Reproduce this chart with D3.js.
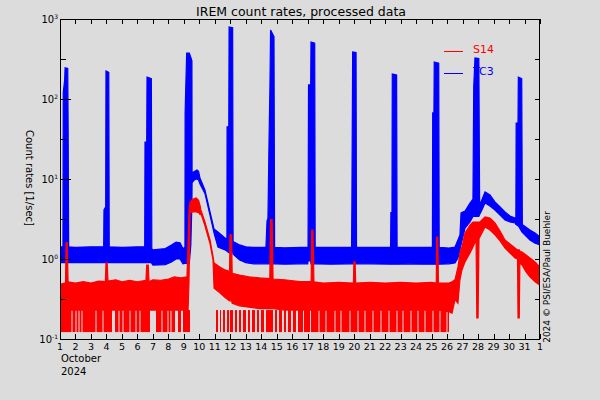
<!DOCTYPE html>
<html><head><meta charset="utf-8">
<script src="https://cdn.jsdelivr.net/npm/d3@7"></script>
<style>html,body{margin:0;padding:0;background:#dcdcdc;} svg{display:block;}</style>
</head><body><svg id="c" width="600" height="400"></svg>
<script>
// ---------- data ----------
const xTickLabels = ["1","2","3","4","5","6","7","8","9","10","11","12","13","14","15","16","17","18","19","20","21","22","23","24","25","26","27","28","29","30","31","1"];
const yDecades = [0.1, 1, 10, 100, 1000];
const yExponents = ["-1", "0", "1", "2", "3"];
const yHalfDecades = [0.316, 3.16, 31.6, 316];
const seriesNames = ["S14", "TC3"];

// TC3: [day, low, high] envelope of the count rate (1/sec)
const tc3 = [
 [1.0,0.9,1.42],[1.19,0.9,1.42],[1.21,0.9,120],[1.3,0.9,173],[1.33,0.9,245],[1.5,0.9,240],[1.53,0.9,30],[1.56,0.9,1.42],
 [2.0,0.9,1.4],[3.0,0.91,1.42],[3.82,0.9,1.42],[3.84,0.9,4.1],[3.95,0.9,4.5],[3.97,0.9,224],[4.15,0.9,215],[4.18,0.9,1.42],
 [5.0,0.9,1.4],[6.0,0.9,1.42],[6.47,0.9,1.42],[6.49,0.9,29],[6.6,0.9,29],[6.62,0.9,188],[6.9,0.9,180],[6.93,0.88,1.35],
 [7.0,0.84,1.3],[7.8,0.85,1.35],[8.2,0.92,1.5],[8.5,1.0,1.63],[8.75,1.0,1.6],[8.94,0.87,1.35],[9.07,0.88,1.4],
 [9.08,0.88,67],[9.18,0.88,376],[9.35,0.88,376],[9.45,1.5,330],[9.52,5,300],[9.53,9.0,12],[9.7,9.8,12.5],[9.85,10,13],
 [9.95,9.7,12.5],[10.04,8.66,10.3],[10.36,6.6,7.3],[10.69,3.5,3.87],[10.95,2.1,2.37],[11.2,1.41,2.17],[11.66,1.3,1.83],
 [11.78,1.25,1.75],[11.79,1.25,45],[11.9,1.2,45],[11.92,1.2,794],[12.15,1.2,780],[12.18,1.15,1.65],[12.6,0.97,1.5],
 [13.0,0.9,1.42],[13.5,0.87,1.4],[14.3,0.87,1.4],[14.37,0.87,3.0],[14.43,0.87,3.2],[14.5,0.87,30],[14.56,0.87,150],
 [14.6,0.87,729],[14.82,0.87,600],[14.86,0.87,1.4],[15.5,0.86,1.38],[16.5,0.87,1.4],[17.0,0.87,1.4],[17.02,0.95,1.4],
 [17.05,0.95,150],[17.19,0.95,150],[17.21,0.87,516],[17.45,0.87,500],[17.48,0.87,1.4],[18.5,0.86,1.4],[19.83,0.87,1.4],
 [19.85,0.87,4.5],[19.9,0.87,387],[20.12,0.87,380],[20.15,0.87,1.4],[21.0,0.87,1.4],[22.35,0.86,1.4],[22.37,0.86,3.8],
 [22.44,0.86,3.8],[22.46,0.86,205],[22.74,0.86,200],[22.77,0.86,1.4],[23.5,0.87,1.4],[24.5,0.86,1.4],[25.05,0.86,1.4],
 [25.07,0.86,67],[25.15,0.86,67],[25.17,0.86,290],[25.46,0.86,280],[25.49,0.86,1.4],[26.12,0.87,1.37],[26.51,0.89,1.41],
 [26.7,1.03,1.73],[26.83,1.3,1.99],[26.9,1.5,3.76],[27.16,2.44,3.98],[27.48,2.9,5.0],[27.67,3.4,5.6],[27.72,3.4,141],
 [27.8,3.4,325],[28.05,3.4,320],[28.1,3.6,5.1],[28.19,3.87,5.17],[28.45,5.0,6.88],[28.77,4.6,6.3],[29.09,4.1,5.17],
 [29.42,3.55,4.47],[29.74,3.07,3.87],[30.06,2.9,3.45],[30.39,2.82,3.25],[30.44,2.7,3.2],[30.46,2.7,50],[30.58,2.6,50],
 [30.6,2.6,188],[30.82,2.2,180],[30.86,2.15,2.7],[30.9,2.11,2.66],[31.35,1.73,2.3],[31.68,1.58,2.11],[32.0,1.5,1.88]
];

// S14: [day, low, high] envelope of the count rate (1/sec)
const s14 = [
 [1.0,0.23,0.48],[1.3,0.23,0.5],[1.36,0.23,0.5],[1.39,0.23,1.6],[1.47,0.23,1.6],[1.52,0.23,0.52],[2.0,0.23,0.5],
 [2.5,0.23,0.52],[3.0,0.23,0.5],[3.5,0.23,0.53],[3.93,0.23,0.52],[3.97,0.23,0.89],[4.05,0.23,0.89],[4.1,0.23,0.53],
 [4.6,0.23,0.55],[5.0,0.23,0.52],[5.5,0.23,0.54],[6.0,0.23,0.52],[6.55,0.23,0.54],[6.6,0.23,0.84],[6.7,0.23,0.84],
 [6.75,0.23,0.52],[7.0,0.23,0.55],[7.5,0.23,0.54],[8.0,0.23,0.56],[8.4,0.23,0.6],[8.8,0.23,0.58],[9.2,0.23,0.6],
 [9.27,0.23,1.6],[9.33,0.5,4.1],[9.4,3.76,5.2],[9.6,3.9,5.6],[9.8,3.87,5.8],[9.95,3.8,5.4],[10.05,3.6,4.6],[10.1,3.7,4.1],
 [10.36,2.6,2.9],[10.69,1.55,1.73],[10.88,0.98,1.09],[10.95,0.43,0.89],[11.3,0.38,0.8],[11.66,0.33,0.73],[11.95,0.3,0.7],
 [11.98,0.3,2.0],[12.08,0.3,2.0],[12.12,0.28,0.66],[12.6,0.26,0.63],[13.2,0.25,0.6],[13.9,0.24,0.58],[14.55,0.24,0.57],
 [14.6,0.24,3.1],[14.7,0.24,3.1],[14.76,0.24,0.56],[15.5,0.23,0.55],[16.5,0.23,0.52],[17.22,0.23,0.52],[17.26,0.23,2.3],
 [17.34,0.23,2.3],[17.4,0.23,0.52],[18.0,0.23,0.5],[19.0,0.23,0.51],[19.95,0.23,0.5],[19.98,0.23,0.92],[20.06,0.23,0.92],
 [20.1,0.23,0.5],[21.0,0.23,0.51],[22.0,0.23,0.5],[23.0,0.23,0.51],[24.0,0.23,0.5],[25.0,0.23,0.51],[25.3,0.23,0.5],
 [25.33,0.23,1.88],[25.4,0.23,1.88],[25.44,0.23,0.5],[26.12,0.22,0.5],[26.32,0.21,0.52],[26.51,0.31,0.55],[26.7,0.28,0.79],
 [26.83,0.55,1.19],[26.96,0.73,1.41],[27.16,0.92,2.11],[27.48,1.19,2.66],[27.67,1.41,2.9],[27.87,1.73,2.9],[27.92,0.183,2.9],
 [28.0,0.183,2.9],[28.06,1.8,2.9],[28.12,1.88,2.9],[28.45,2.51,3.35],[28.77,2.3,3.25],[29.09,2.0,2.82],[29.42,1.68,2.24],
 [29.74,1.37,1.73],[30.06,1.19,1.54],[30.39,1.03,1.37],[30.55,1.0,1.3],[30.58,0.183,1.3],[30.66,0.183,1.3],[30.7,0.9,1.25],
 [30.84,0.84,1.22],[31.1,0.69,1.12],[31.35,0.6,1.03],[31.68,0.52,0.92],[32.0,0.47,0.79]
];

// S14 time spans (days) in which the rate drops to the lowest level
const s14Floor = 0.122;
const s14FloorTop = 0.23;
const s14FloorSpans = [
 [1.0,1.743],[1.807,2.001],[2.066,2.195],[2.259,2.389],[2.453,3.293],[3.357,3.745],[3.809,4.358],[4.552,4.778],
 [4.843,5.036],[5.101,5.489],[5.553,5.876],[5.941,6.134],[6.199,6.812],[7.2,7.555],[7.62,7.943],[8.007,8.136],
 [8.201,8.427],[8.621,8.815],[8.944,9.396],
 [11.075,11.204],[11.333,11.398],[11.527,11.656],[11.785,11.915],[11.979,12.173],[12.302,12.431],[12.56,12.689],
 [12.818,13.012],[13.141,13.271],[13.4,13.594],[13.723,13.852],[13.981,14.175],[14.304,14.756],[14.885,15.014],
 [15.143,15.337],[15.466,15.595],[15.724,15.918],[16.047,16.241],[16.371,16.694],[16.758,17.146],[17.211,17.695],
 [17.759,18.147],[18.211,18.728],[18.792,19.115],[19.18,19.697],[19.761,20.213],[20.278,20.665],[20.73,21.182],
 [21.246,21.699],[21.763,22.215],[22.28,22.732],[22.796,23.12],[23.184,23.636],[23.701,24.088],[24.153,24.54],
 [24.605,25.057],[25.121,25.509],[25.573,25.961],[26.025,26.123]
];

// ---------- chart ----------
const W = 600, H = 400;
const L = 60, R = 540, T = 19, B = 339;
const FONT = "DejaVu Sans, Liberation Sans, sans-serif";
const RED = "#ff0000", BLUE = "#0000ff";

const svg = d3.select("#c");
svg.append("rect").attr("width", W).attr("height", H).attr("fill", "#dcdcdc");

const x = d3.scaleLinear().domain([1, 32]).range([L, R]);
const y = d3.scaleLog().domain([0.1, 1000]).range([B, T]);

// title
svg.append("text").attr("x", 301).attr("y", 16).attr("text-anchor", "middle")
  .attr("font-family", FONT).attr("font-size", 12.5).text("IREM count rates, processed data");

// legend (drawn beneath data)
const legend = [{name: seriesNames[0], color: RED, y: 51}, {name: seriesNames[1], color: BLUE, y: 73}];
legend.forEach(d => {
  svg.append("line").attr("x1", 444).attr("x2", 463).attr("y1", d.y + 0.5).attr("y2", d.y + 0.5)
    .attr("stroke", d.color).attr("stroke-width", 1);
  svg.append("text").attr("x", 473).attr("y", d.y + 2).attr("font-family", FONT).attr("font-size", 11)
    .attr("fill", d.color).text(d.name);
});

svg.append("defs").append("clipPath").attr("id", "pa").append("rect")
  .attr("x", L).attr("y", T).attr("width", R - L).attr("height", B - T);
const g = svg.append("g").attr("clip-path", "url(#pa)");

const area = d3.area().x(d => x(d[0])).y0(d => y(d[1])).y1(d => y(d[2]));

g.append("path").datum(tc3).attr("d", area).attr("fill", BLUE).attr("stroke", BLUE).attr("stroke-width", 1.2);

g.selectAll("rect.fl").data(s14FloorSpans).join("rect").attr("class", "fl")
  .attr("x", d => x(d[0])).attr("width", d => Math.max(1, x(d[1]) - x(d[0])))
  .attr("y", y(s14FloorTop)).attr("height", y(s14Floor) - y(s14FloorTop)).attr("fill", RED);

g.append("path").datum(s14).attr("d", area).attr("fill", RED).attr("stroke", RED).attr("stroke-width", 1.2);

// frame
svg.append("rect").attr("x", L + 0.5).attr("y", T + 0.5).attr("width", R - L - 1).attr("height", B - T)
  .attr("fill", "none").attr("stroke", "#000").attr("stroke-width", 1);

// x ticks
const ax = svg.append("g").attr("stroke", "#000").attr("stroke-width", 1);
xTickLabels.forEach((lab, i) => {
  const xp = Math.round(x(i + 1)) + 0.5;
  ax.append("line").attr("x1", xp).attr("x2", xp).attr("y1", T).attr("y2", T + 5);
  ax.append("line").attr("x1", xp).attr("x2", xp).attr("y1", B).attr("y2", B - 5);
  svg.append("text").attr("x", x(i + 1)).attr("y", 350).attr("text-anchor", "middle")
    .attr("font-family", FONT).attr("font-size", 9.5).text(lab);
});
svg.append("text").attr("x", 61).attr("y", 362).attr("font-family", FONT).attr("font-size", 10).text("October");
svg.append("text").attr("x", 61).attr("y", 375).attr("font-family", FONT).attr("font-size", 10).text("2024");

// y ticks
yDecades.forEach((v, i) => {
  const yp = Math.round(y(v)) + 0.5;
  ax.append("line").attr("x1", L).attr("x2", L + 11).attr("y1", yp).attr("y2", yp);
  ax.append("line").attr("x1", R - 5).attr("x2", R).attr("y1", yp).attr("y2", yp);
  const t = svg.append("text").attr("x", 58).attr("y", y(v) + 4).attr("text-anchor", "end")
    .attr("font-family", FONT).attr("font-size", 10);
  t.append("tspan").text("10");
  t.append("tspan").attr("font-size", 6).attr("dy", -4.5).text(yExponents[i]);
});
yHalfDecades.forEach(v => {
  const yp = Math.round(y(v)) + 0.5;
  ax.append("line").attr("x1", L).attr("x2", L + 6).attr("y1", yp).attr("y2", yp);
  ax.append("line").attr("x1", R - 5).attr("x2", R).attr("y1", yp).attr("y2", yp);
});

// axis titles
svg.append("text").attr("transform", "translate(26,178) rotate(90)").attr("text-anchor", "middle")
  .attr("font-family", FONT).attr("font-size", 10).text("Count rates [1/sec]");
svg.append("text").attr("transform", "translate(550,277) rotate(-90)").attr("text-anchor", "middle")
  .attr("font-family", FONT).attr("font-size", 9).text("2024 \u00A9 PSI/ESA/Paul Buehler");
</script></body></html>
